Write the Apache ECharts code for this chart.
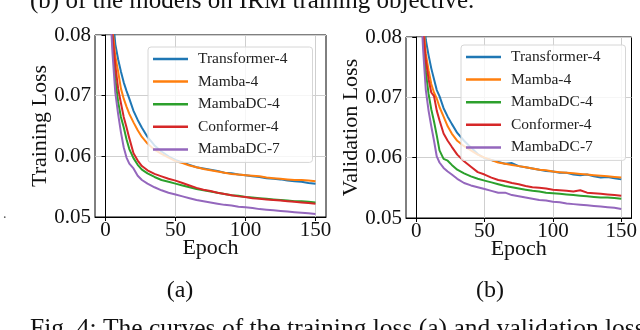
<!DOCTYPE html>
<html>
<head>
<meta charset="utf-8">
<script src="https://cdn.jsdelivr.net/npm/echarts@6/dist/echarts.min.js"></script>
<style>
html,body{margin:0;padding:0;background:#fff}
#main{width:640px;height:330px}
</style>
</head>
<body>
<div id="main"></div>
<script>
var epochs = [1, 3, 5, 7, 9, 11, 13, 15, 17, 20, 23, 26, 30, 35, 40, 45, 50, 55, 60, 65, 70, 75, 80, 85, 90, 95, 100, 105, 110, 115, 120, 125, 130, 135, 140, 145, 150];

var names = ['Transformer-4', 'Mamba-4', 'MambaDC-4', 'Conformer-4', 'MambaDC-7'];
var colors = ['#1f77b4', '#ff7f0e', '#2ca02c', '#d62728', '#9467bd'];

// (a) training loss
var trainTransformer4 = [0.140, 0.095, 0.0835, 0.0785, 0.0760, 0.0740, 0.0722, 0.0708, 0.0695, 0.0675, 0.0660, 0.0647, 0.0632, 0.0618, 0.0608, 0.0600, 0.0594, 0.0590, 0.0586, 0.0582, 0.0580, 0.0578, 0.0576, 0.0573, 0.0572, 0.0570, 0.0569, 0.0567, 0.0566, 0.0564, 0.0563, 0.0562, 0.0560, 0.0559, 0.0558, 0.0556, 0.0555];
var trainMamba4 = [0.135, 0.092, 0.0810, 0.0765, 0.0740, 0.0712, 0.0695, 0.0682, 0.0670, 0.0656, 0.0643, 0.0632, 0.0621, 0.0611, 0.0604, 0.0598, 0.0592, 0.0589, 0.0585, 0.0582, 0.0579, 0.0577, 0.0575, 0.0573, 0.0571, 0.0570, 0.0569, 0.0568, 0.0567, 0.0565, 0.0564, 0.0563, 0.0562, 0.0561, 0.0561, 0.0560, 0.0559];
var trainMambaDC4 = [0.125, 0.088, 0.0785, 0.0728, 0.0690, 0.0665, 0.0648, 0.0628, 0.0612, 0.0597, 0.0586, 0.0578, 0.0572, 0.0566, 0.0561, 0.0558, 0.0555, 0.0552, 0.0549, 0.0546, 0.0544, 0.0542, 0.0540, 0.0538, 0.0536, 0.0535, 0.0533, 0.0532, 0.0531, 0.0530, 0.0529, 0.0528, 0.0527, 0.0526, 0.0526, 0.0525, 0.0524];
var trainConformer4 = [0.130, 0.090, 0.0800, 0.0750, 0.0712, 0.0688, 0.0665, 0.0648, 0.0630, 0.0605, 0.0593, 0.0584, 0.0577, 0.0571, 0.0567, 0.0563, 0.0560, 0.0556, 0.0552, 0.0548, 0.0545, 0.0543, 0.0540, 0.0538, 0.0536, 0.0534, 0.0533, 0.0531, 0.0530, 0.0529, 0.0528, 0.0527, 0.0526, 0.0525, 0.0524, 0.0523, 0.0522];
var trainMambaDC7 = [0.120, 0.086, 0.0770, 0.0705, 0.0670, 0.0640, 0.0615, 0.0598, 0.0588, 0.0580, 0.0568, 0.0561, 0.0555, 0.0549, 0.0544, 0.0540, 0.0537, 0.0534, 0.0531, 0.0528, 0.0526, 0.0524, 0.0522, 0.0520, 0.0519, 0.0517, 0.0516, 0.0515, 0.0513, 0.0512, 0.0511, 0.0510, 0.0509, 0.0508, 0.0507, 0.0506, 0.0505];

// (b) validation loss
var valTransformer4 = [0.140, 0.096, 0.0845, 0.0795, 0.0770, 0.0748, 0.0730, 0.0712, 0.0702, 0.0682, 0.0668, 0.0656, 0.0641, 0.0628, 0.0617, 0.0606, 0.0599, 0.0596, 0.0593, 0.0590, 0.0591, 0.0586, 0.0584, 0.0582, 0.0580, 0.0578, 0.0577, 0.0575, 0.0575, 0.0572, 0.0571, 0.0572, 0.0569, 0.0567, 0.0568, 0.0566, 0.0564];
var valMamba4 = [0.135, 0.093, 0.0825, 0.0772, 0.0745, 0.0722, 0.0708, 0.0698, 0.0684, 0.0668, 0.0652, 0.0640, 0.0628, 0.0619, 0.0612, 0.0605, 0.0600, 0.0596, 0.0592, 0.0590, 0.0588, 0.0586, 0.0584, 0.0582, 0.0580, 0.0579, 0.0577, 0.0576, 0.0575, 0.0574, 0.0573, 0.0572, 0.0571, 0.0570, 0.0569, 0.0568, 0.0567];
var valMambaDC4 = [0.125, 0.089, 0.0795, 0.0742, 0.0706, 0.0680, 0.0660, 0.0637, 0.0612, 0.0598, 0.0595, 0.0588, 0.0580, 0.0574, 0.0569, 0.0565, 0.0562, 0.0559, 0.0556, 0.0553, 0.0551, 0.0549, 0.0547, 0.0545, 0.0544, 0.0542, 0.0541, 0.0540, 0.0539, 0.0538, 0.0537, 0.0536, 0.0535, 0.0534, 0.0534, 0.0533, 0.0532];
var valConformer4 = [0.130, 0.091, 0.0810, 0.0762, 0.0730, 0.0708, 0.0702, 0.0678, 0.0662, 0.0640, 0.0628, 0.0618, 0.0605, 0.0594, 0.0585, 0.0576, 0.0572, 0.0567, 0.0563, 0.0561, 0.0558, 0.0556, 0.0553, 0.0551, 0.0550, 0.0549, 0.0547, 0.0546, 0.0545, 0.0544, 0.0546, 0.0542, 0.0541, 0.0540, 0.0539, 0.0538, 0.0537];
var valMambaDC7 = [0.120, 0.087, 0.0780, 0.0712, 0.0678, 0.0652, 0.0628, 0.0602, 0.0592, 0.0583, 0.0577, 0.0572, 0.0565, 0.0558, 0.0554, 0.0551, 0.0548, 0.0545, 0.0542, 0.0542, 0.0538, 0.0536, 0.0534, 0.0532, 0.0530, 0.0529, 0.0527, 0.0526, 0.0524, 0.0523, 0.0522, 0.0521, 0.0520, 0.0519, 0.0518, 0.0517, 0.0515];

var xTicks = [0, 50, 100, 150];

var trainData = [trainTransformer4, trainMamba4, trainMambaDC4, trainConformer4, trainMambaDC7];
var valData = [valTransformer4, valMamba4, valMambaDC4, valConformer4, valMambaDC7];

var serif = 'Liberation Serif';

function pairs(vals) {
    return epochs.map(function (e, i) { return [e, vals[i]]; });
}

function makeX(idx) {
    return {
        type: 'value', gridIndex: idx, min: -7.5, max: 157.5,
        name: 'Epoch', nameLocation: 'middle', nameGap: 20, nameMoveOverlap: false,
        nameTextStyle: { fontFamily: serif, fontSize: 22, color: '#111' },
        axisLine: { lineStyle: { color: '#000', width: 1 } },
        axisTick: { customValues: xTicks, length: 4, lineStyle: { color: '#000' } },
        axisLabel: { customValues: xTicks, fontFamily: serif, fontSize: 21, color: '#111', margin: 3 },
        splitLine: { show: true, lineStyle: { color: '#cfcfcf', width: 1 } }
    };
}

function makeY(idx, label) {
    return {
        type: 'value', gridIndex: idx, min: 0.05, max: 0.08, interval: 0.01,
        name: label, nameLocation: 'middle', nameGap: 44, nameRotate: 90, nameMoveOverlap: false,
        nameTextStyle: { fontFamily: serif, fontSize: 22, color: '#111' },
        axisLine: { show: true, lineStyle: { color: '#000', width: 1 } },
        axisTick: { show: true, length: 4, lineStyle: { color: '#000' } },
        axisLabel: {
            fontFamily: serif, fontSize: 21, color: '#111', margin: 4,
            formatter: function (v) { return v.toFixed(2); }
        },
        splitLine: { show: true, lineStyle: { color: '#cfcfcf', width: 1 } }
    };
}

function makeLegend(left, top) {
    return {
        data: names, orient: 'vertical', left: left, top: top,
        icon: 'rect', itemWidth: 35, itemHeight: 2.5, itemGap: 6.6,
        padding: [4, 25, 5, 5],
        backgroundColor: 'rgba(255,255,255,0.8)',
        borderColor: '#d6d6d6', borderWidth: 1, borderRadius: 3,
        textStyle: { fontFamily: serif, fontSize: 15.5, lineHeight: 16, color: '#222', padding: [0, 0, 0, 5] }
    };
}

var series = [];
[trainData, valData].forEach(function (set, g) {
    set.forEach(function (vals, k) {
        series.push({
            name: names[k], type: 'line', xAxisIndex: g, yAxisIndex: g,
            data: pairs(vals), symbol: 'none', showSymbol: false,
            lineStyle: { color: colors[k], width: 2 }, itemStyle: { color: colors[k] },
            clip: true, animation: false
        });
    });
});

var chart = echarts.init(document.getElementById('main'));
chart.setOption({
    backgroundColor: '#fff',
    animation: false,
    grid: [
        { left: 95, top: 35, width: 231, height: 182, show: true, borderColor: '#000', borderWidth: 1 },
        { left: 406, top: 37, width: 229, height: 181, show: true, borderColor: '#000', borderWidth: 1 }
    ],
    xAxis: [makeX(0), makeX(1)],
    yAxis: [makeY(0, 'Training Loss'), makeY(1, 'Validation Loss')],
    legend: [makeLegend(148, 47), makeLegend(461, 45)],
    graphic: [
        { type: 'text', x: 30, y: 1, style: { text: '(b) of the models on IRM training objective.', font: '25px "Liberation Serif"', fill: '#111', verticalAlign: 'middle' } },
        { type: 'text', x: 30, y: 329, style: { text: 'Fig. 4: The curves of the training loss (a) and validation loss', font: '25.5px "Liberation Serif"', fill: '#111', verticalAlign: 'middle' } },
        { type: 'text', x: 180, y: 291, style: { text: '(a)', font: '24px "Liberation Serif"', fill: '#111', align: 'center', verticalAlign: 'middle' } },
        { type: 'text', x: 490, y: 291, style: { text: '(b)', font: '24px "Liberation Serif"', fill: '#111', align: 'center', verticalAlign: 'middle' } },
        { type: 'text', x: 3, y: 207, style: { text: '.', font: '14px "Liberation Serif"', fill: '#555' } }
    ],
    series: series
});
</script>
</body>
</html>
